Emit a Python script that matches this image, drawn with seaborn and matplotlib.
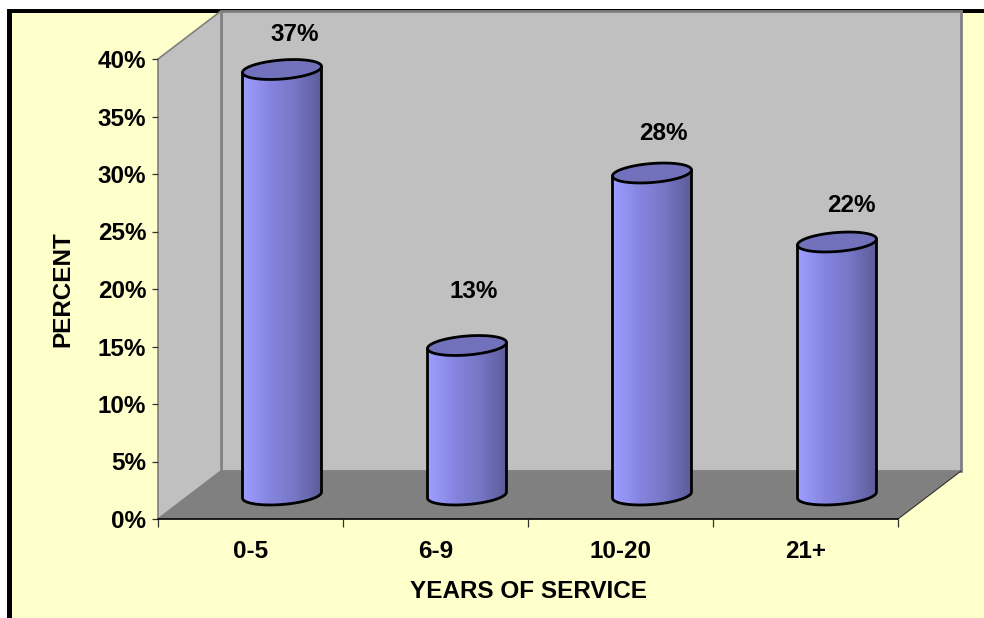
import numpy as np
import pandas as pd
import seaborn as sns
from matplotlib import pyplot as plt
from matplotlib.colors import LinearSegmentedColormap
from matplotlib.patches import Polygon, Rectangle
from matplotlib.transforms import Affine2D

# values
years = ["0-5", "6-9", "10-20", "21+"]
percent = [37, 13, 28, 22]
y_ticks = [0, 5, 10, 15, 20, 25, 30, 35, 40]

# label nudges from the top of each cylinder, in pixels
label_dx = [13, 7, 11, 14]
label_dy = [35, 54, 40, 37]

W, H = 984, 618
PANEL = "#FFFFCC"
WALL = "#C0C0C0"
FLOOR = "#808080"
DEPTH_X, DEPTH_Y = 63, 48
FONT_SIZE = 17.5

sns.set_theme(style="white")
plt.rcParams["font.family"] = ["Liberation Sans", "DejaVu Sans"]
plt.rcParams["font.weight"] = "bold"

fig = plt.figure(figsize=(W / 100, H / 100), dpi=100, facecolor="white")

# pale panel with the heavy black edge on the top and the left
fig.add_artist(Rectangle((7 / W, 0), 1 - 7 / W, 1 - 9 / H, transform=fig.transFigure,
                         facecolor="black", edgecolor="none", zorder=-2))
fig.add_artist(Rectangle((12 / W, 0), 1 - 12 / W, 1 - 13 / H, transform=fig.transFigure,
                         facecolor=PANEL, edgecolor="none", zorder=-1))

ax = fig.add_axes([158 / W, 1 - 519 / H, 740 / W, 460 / H])
ax.patch.set_visible(False)

df = pd.DataFrame({"years": years, "percent": percent})
sns.barplot(data=df, x="years", y="percent", width=0.427, ax=ax)
ax.set_xlim(-0.5, 3.5)
ax.set_ylim(0, 40)


def shifted(base, dx, dy):
    return base + Affine2D().translate(dx, dy)


# walls and floor, set back from the front plane of the axes
back = shifted(ax.transAxes, DEPTH_X, DEPTH_Y)
ax.add_patch(Rectangle((0, 0), 1, 1, transform=back, facecolor=WALL, edgecolor=FLOOR,
                       linewidth=2, zorder=0.2, clip_on=False))
corner_x, corner_y = DEPTH_X / 740, DEPTH_Y / 460
ax.add_patch(Polygon([(0, 0), (0, 1), (corner_x, 1 + corner_y), (corner_x, corner_y)],
                     transform=ax.transAxes, facecolor=WALL, edgecolor=FLOOR,
                     linewidth=1.2, zorder=0.3, clip_on=False))
ax.add_patch(Polygon([(0, 0), (1, 0), (1 + corner_x, corner_y), (corner_x, corner_y)],
                     transform=ax.transAxes, facecolor=FLOOR, edgecolor="none",
                     zorder=0.4, clip_on=False))
ax.plot([1, 1 + corner_x], [0, corner_y], transform=ax.transAxes, color="#303030",
        linewidth=0.8, zorder=0.5, clip_on=False)
ax.plot([0, 1], [0, 0], transform=ax.transAxes, color="black", linewidth=1.2,
        zorder=0.6, clip_on=False)

# cylinders stand halfway into the depth
mid = shifted(ax.transData, DEPTH_X / 2, DEPTH_Y / 2)
shade = LinearSegmentedColormap.from_list("shade", ["#9C9CFF", "#8585E0", "#7676C4", "#5C5C9C"])
strips = np.linspace(0, 1, 26).reshape(1, -1)
t = np.linspace(0, 2 * np.pi, 121)
px_y = 40 / 460
bulge, tilt = 9.5 * px_y, 3 * px_y

for bar, value, dx, dy in zip(list(ax.patches), percent, label_dx, label_dy):
    x0, width = bar.get_x(), bar.get_width()
    bar.set_visible(False)
    centre = x0 + width / 2
    ring_x = centre + width / 2 * np.cos(t)
    ring_y = bulge * np.sin(t) + tilt * np.cos(t)

    # body outline: top rim, down the left side, bottom rim, up the right side
    lower = t[60:]
    low_x = centre + width / 2 * np.cos(lower)
    low_y = bulge * np.sin(lower) + tilt * np.cos(lower)
    body = np.vstack([[[x0 + width, value + tilt]], [[x0, value - tilt]],
                      np.column_stack([low_x, low_y])])
    outline = Polygon(body, closed=True, transform=mid, facecolor="none", edgecolor="black",
                      linewidth=2, zorder=3, clip_on=False, joinstyle="round")
    ax.add_patch(outline)
    img = ax.imshow(strips, cmap=shade, extent=(x0, x0 + width, -2, value + 2), aspect="auto",
                    transform=mid, interpolation="nearest", zorder=2)
    img.set_clip_path(Polygon(body, closed=True, transform=mid))
    ax.add_patch(Polygon(np.column_stack([ring_x, value + ring_y]), closed=True, transform=mid,
                         facecolor="#7272BC", edgecolor="black", linewidth=2, zorder=4,
                         clip_on=False))
    ax.annotate(f"{value}%", (centre, value), xycoords=mid, xytext=(dx * 0.72, dy * 0.72),
                textcoords="offset points", ha="center", va="center", fontsize=FONT_SIZE,
                fontweight="bold", color="black", zorder=5, annotation_clip=False)

ax.set_xlim(-0.5, 3.5)
ax.set_ylim(0, 40)

for side in ax.spines:
    ax.spines[side].set_visible(False)

ax.set_yticks(y_ticks)
ax.set_yticklabels([f"{v}%" for v in y_ticks], fontsize=FONT_SIZE, fontweight="bold", color="black")
ax.tick_params(axis="y", left=True, length=4.5, width=0.9, color="#303030", pad=4)
ax.set_xticks(range(len(years)))
ax.set_xticklabels(years, fontsize=FONT_SIZE, fontweight="bold", color="black")
ax.set_xticks(np.arange(-0.5, 4), minor=True)
ax.tick_params(axis="x", which="major", bottom=False, length=0, pad=15)
ax.tick_params(axis="x", which="minor", bottom=True, length=6, width=0.9, color="#303030")
ax.set_ylabel("PERCENT", fontsize=FONT_SIZE, fontweight="bold", color="black", labelpad=0)
ax.yaxis.set_label_coords((63 - 158) / 740, (519 - 289) / 460)
ax.set_xlabel("YEARS OF SERVICE", fontsize=FONT_SIZE, fontweight="bold", color="black")
ax.xaxis.set_label_coords((528 - 158) / 740, (519 - 592) / 460)
ax.xaxis.label.set_verticalalignment("center")
ax.yaxis.label.set_verticalalignment("center")

fig.savefig("out.png", dpi=100, facecolor=fig.get_facecolor())
